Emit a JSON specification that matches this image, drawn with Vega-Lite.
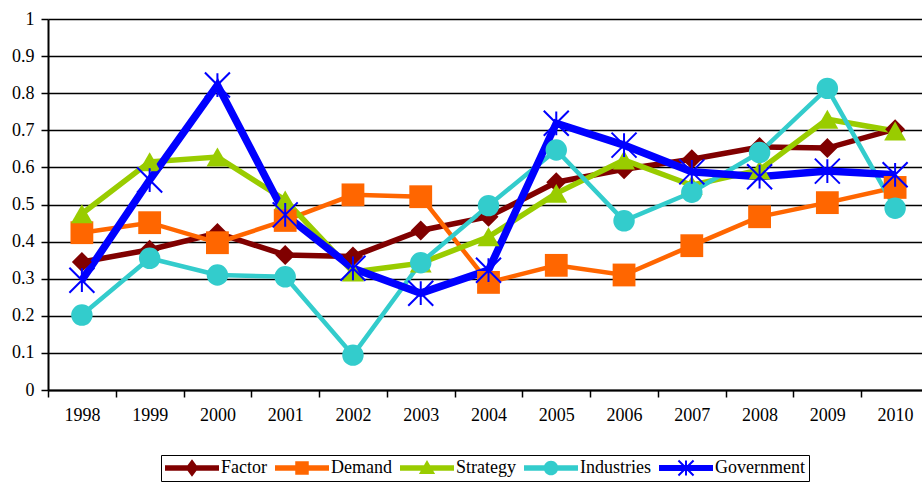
{
  "$schema": "https://vega.github.io/schema/vega-lite/v6.json",
  "width": 881,
  "height": 371,
  "autosize": {"type": "none"},
  "padding": {"left": 48, "top": 19, "right": 0, "bottom": 94},
  "background": "white",
  "config": {
    "view": {"stroke": null},
    "font": "Times New Roman",
    "axis": {
      "labelFont": "Times New Roman",
      "labelFontSize": 18,
      "labelColor": "black",
      "domainColor": "black",
      "domainWidth": 2,
      "tickColor": "black",
      "tickWidth": 1.5,
      "tickSize": 7,
      "title": null
    },
    "legend": {
      "labelFont": "Times New Roman",
      "labelFontSize": 18,
      "labelColor": "black"
    }
  },
  "data": {
    "values": [
      {"year": "1998", "series": "Factor", "value": 0.345},
      {"year": "1999", "series": "Factor", "value": 0.378},
      {"year": "2000", "series": "Factor", "value": 0.423},
      {"year": "2001", "series": "Factor", "value": 0.364},
      {"year": "2002", "series": "Factor", "value": 0.36},
      {"year": "2003", "series": "Factor", "value": 0.43},
      {"year": "2004", "series": "Factor", "value": 0.467},
      {"year": "2005", "series": "Factor", "value": 0.56},
      {"year": "2006", "series": "Factor", "value": 0.595},
      {"year": "2007", "series": "Factor", "value": 0.622},
      {"year": "2008", "series": "Factor", "value": 0.655},
      {"year": "2009", "series": "Factor", "value": 0.652},
      {"year": "2010", "series": "Factor", "value": 0.703},
      {"year": "1998", "series": "Demand", "value": 0.424},
      {"year": "1999", "series": "Demand", "value": 0.451},
      {"year": "2000", "series": "Demand", "value": 0.397},
      {"year": "2001", "series": "Demand", "value": 0.457},
      {"year": "2002", "series": "Demand", "value": 0.526},
      {"year": "2003", "series": "Demand", "value": 0.521},
      {"year": "2004", "series": "Demand", "value": 0.29},
      {"year": "2005", "series": "Demand", "value": 0.336},
      {"year": "2006", "series": "Demand", "value": 0.31},
      {"year": "2007", "series": "Demand", "value": 0.389},
      {"year": "2008", "series": "Demand", "value": 0.467},
      {"year": "2009", "series": "Demand", "value": 0.505},
      {"year": "2010", "series": "Demand", "value": 0.546},
      {"year": "1998", "series": "Strategy", "value": 0.475},
      {"year": "1999", "series": "Strategy", "value": 0.615},
      {"year": "2000", "series": "Strategy", "value": 0.628},
      {"year": "2001", "series": "Strategy", "value": 0.512},
      {"year": "2002", "series": "Strategy", "value": 0.318},
      {"year": "2003", "series": "Strategy", "value": 0.342},
      {"year": "2004", "series": "Strategy", "value": 0.413},
      {"year": "2005", "series": "Strategy", "value": 0.53},
      {"year": "2006", "series": "Strategy", "value": 0.62},
      {"year": "2007", "series": "Strategy", "value": 0.552},
      {"year": "2008", "series": "Strategy", "value": 0.593},
      {"year": "2009", "series": "Strategy", "value": 0.73},
      {"year": "2010", "series": "Strategy", "value": 0.698},
      {"year": "1998", "series": "Industries", "value": 0.202},
      {"year": "1999", "series": "Industries", "value": 0.355},
      {"year": "2000", "series": "Industries", "value": 0.31},
      {"year": "2001", "series": "Industries", "value": 0.305},
      {"year": "2002", "series": "Industries", "value": 0.094},
      {"year": "2003", "series": "Industries", "value": 0.343},
      {"year": "2004", "series": "Industries", "value": 0.497},
      {"year": "2005", "series": "Industries", "value": 0.647},
      {"year": "2006", "series": "Industries", "value": 0.456},
      {"year": "2007", "series": "Industries", "value": 0.533},
      {"year": "2008", "series": "Industries", "value": 0.64},
      {"year": "2009", "series": "Industries", "value": 0.813},
      {"year": "2010", "series": "Industries", "value": 0.49},
      {"year": "1998", "series": "Government", "value": 0.296},
      {"year": "1999", "series": "Government", "value": 0.566},
      {"year": "2000", "series": "Government", "value": 0.822},
      {"year": "2001", "series": "Government", "value": 0.472},
      {"year": "2002", "series": "Government", "value": 0.328},
      {"year": "2003", "series": "Government", "value": 0.261},
      {"year": "2004", "series": "Government", "value": 0.323},
      {"year": "2005", "series": "Government", "value": 0.719},
      {"year": "2006", "series": "Government", "value": 0.66},
      {"year": "2007", "series": "Government", "value": 0.588},
      {"year": "2008", "series": "Government", "value": 0.575},
      {"year": "2009", "series": "Government", "value": 0.59},
      {"year": "2010", "series": "Government", "value": 0.58}
    ]
  },
  "encoding": {
    "x": {
      "field": "year",
      "type": "ordinal",
      "bandPosition": 0.5,
      "scale": {"type": "band", "paddingInner": 0, "paddingOuter": 0},
      "axis": {"labelAngle": 0, "tickBand": "extent", "labelPadding": 9, "grid": false}
    },
    "y": {
      "field": "value",
      "type": "quantitative",
      "scale": {"domain": [0, 1], "nice": false},
      "axis": {
        "values": [0, 0.1, 0.2, 0.3, 0.4, 0.5, 0.6, 0.7, 0.8, 0.9, 1],
        "format": "~g",
        "labelPadding": 7,
        "grid": true,
        "gridColor": "black",
        "gridWidth": 1.5,
        "gridOpacity": 1
      }
    }
  },
  "layer": [
    {
      "mark": {"type": "line"},
      "encoding": {
        "color": {
          "field": "series",
          "type": "nominal",
          "scale": {
            "domain": ["Factor", "Demand", "Strategy", "Industries", "Government"],
            "range": ["#800000", "#FF6600", "#99CC00", "#33CCCC", "#0000FF"]
          },
          "legend": null
        },
        "strokeWidth": {
          "field": "series",
          "type": "ordinal",
          "scale": {
            "type": "ordinal",
            "domain": ["Factor", "Demand", "Strategy", "Industries", "Government"],
            "range": [5.5, 4.5, 5.5, 4.5, 7.5]
          },
          "legend": null
        }
      }
    },
    {
      "mark": {"type": "point", "filled": true, "opacity": 1},
      "encoding": {
        "color": {
          "field": "series",
          "type": "nominal",
          "scale": {
            "domain": ["Factor", "Demand", "Strategy", "Industries", "Government"],
            "range": ["#800000", "#FF6600", "#99CC00", "#33CCCC", "#0000FF"]
          },
          "legend": null
        },
        "shape": {
          "field": "series",
          "type": "nominal",
          "scale": {
            "domain": ["Factor", "Demand", "Strategy", "Industries", "Government"],
            "range": [
              "diamond",
              "square",
              "triangle-up",
              "circle",
              "M-0.08,-0.95H0.08V0.95H-0.08Z M-0.943,-1.057L1.057,0.943L0.943,1.057L-1.057,-0.943Z M1.057,-0.943L-0.943,1.057L-1.057,0.943L0.943,-1.057Z"
            ]
          },
          "legend": null
        },
        "size": {
          "field": "series",
          "type": "ordinal",
          "scale": {
            "type": "ordinal",
            "domain": ["Factor", "Demand", "Strategy", "Industries", "Government"],
            "range": [400, 520, 480, 460, 625]
          },
          "legend": null
        }
      }
    },
    {
      "mark": {"type": "point", "filled": true, "opacity": 0, "size": 2916},
      "encoding": {
        "color": {
          "field": "series",
          "type": "nominal",
          "scale": {
            "domain": ["Factor", "Demand", "Strategy", "Industries", "Government"],
            "range": ["#800000", "#FF6600", "#99CC00", "#33CCCC", "#0000FF"]
          },
          "legend": {
            "title": null,
            "orient": "none",
            "legendX": 113,
            "legendY": 436,
            "direction": "horizontal",
            "columns": 5,
            "strokeColor": "black",
            "fillColor": "white",
            "padding": 4,
            "symbolSize": 2916,
            "symbolStrokeWidth": 0,
            "symbolOpacity": 1,
            "labelOffset": 2,
            "columnPadding": 8,
            "clipHeight": 18,
            "labelFontSize": 18,
            "encode": {"symbols": {"update": {"opacity": {"value": 1}}}}
          }
        },
        "shape": {
          "field": "series",
          "type": "nominal",
          "scale": {
            "domain": ["Factor", "Demand", "Strategy", "Industries", "Government"],
            "range": [
              "M-1,-0.1H1V0.1H-1Z M0,-0.32L0.24,0L0,0.32L-0.24,0Z",
              "M-1,-0.1H1V0.1H-1Z M-0.25,-0.25H0.25V0.25H-0.25Z",
              "M-1,-0.1H1V0.1H-1Z M0,-0.3L0.3,0.22L-0.3,0.22Z",
              "M-1,-0.1H1V0.1H-1Z M-0.27,0A0.27,0.27 0 1,1 0.27,0A0.27,0.27 0 1,1 -0.27,0Z",
              "M-1,-0.11H1V0.11H-1Z M-0.037,-0.28H0.037V0.28H-0.037Z M-0.254,-0.306L0.306,0.254L0.254,0.306L-0.306,-0.254Z M0.306,-0.254L-0.254,0.306L-0.306,0.254L0.254,-0.306Z"
            ]
          },
          "legend": {
            "title": null,
            "orient": "none",
            "legendX": 113,
            "legendY": 436,
            "direction": "horizontal",
            "columns": 5,
            "strokeColor": "black",
            "fillColor": "white",
            "padding": 4,
            "symbolSize": 2916,
            "symbolStrokeWidth": 0,
            "symbolOpacity": 1,
            "labelOffset": 2,
            "columnPadding": 8,
            "clipHeight": 18,
            "labelFontSize": 18,
            "encode": {"symbols": {"update": {"opacity": {"value": 1}}}}
          }
        }
      }
    }
  ],
  "resolve": {"scale": {"color": "independent", "shape": "independent"}}
}
